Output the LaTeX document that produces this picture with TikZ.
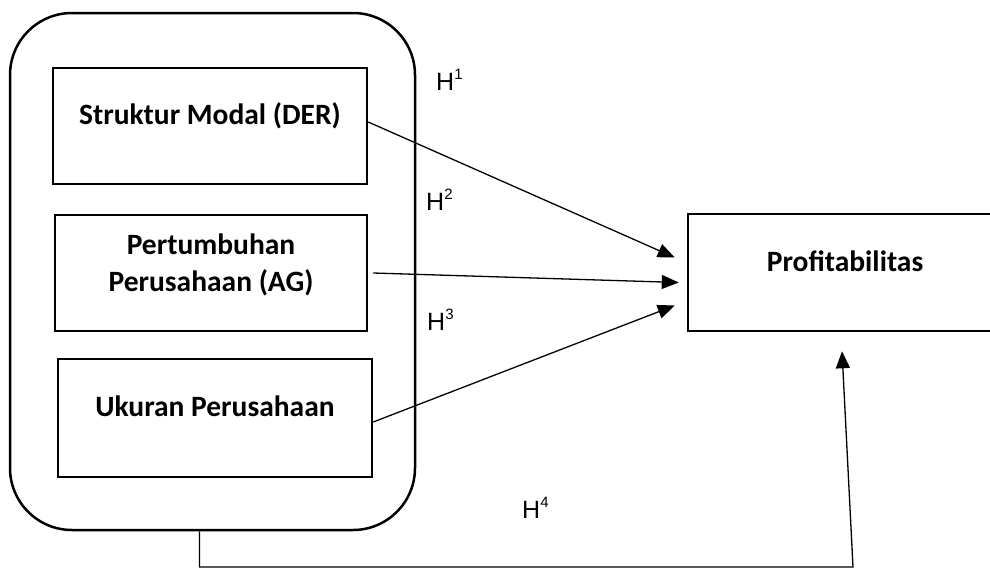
\documentclass[tikz,border=0pt]{standalone}
\usepackage{fontspec}
\setmainfont{Carlito}
\newfontfamily\hfont{Liberation Sans}
\usetikzlibrary{arrows.meta}

\newcommand{\hsup}[1]{H\raisebox{11pt}{\fontsize{15}{17}\selectfont #1}}

\tikzset{
  varbox/.style={draw, line width=2.5pt, inner sep=0pt},
  boxtext/.style={font=\bfseries\fontsize{29.5}{37}\selectfont, align=center, inner sep=0pt},
  hyp/.style={font=\hfont\fontsize{25}{28}\selectfont, inner sep=0pt, anchor=base west},
  link/.style={line width=1.3pt, -{Triangle[length=17pt,width=14pt]}}
}

\begin{document}
\begin{tikzpicture}[x=1pt, y=-1pt]
      \clip (0,0) rectangle (990,568);
      % outer group and boxes
      \node[varbox, rounded corners=62pt, minimum width=405pt, minimum height=517pt] (group) at (212.5,271.5) {};
      \node[varbox, minimum width=314pt, minimum height=116pt] (der) at (210,126) {};
      \node[varbox, minimum width=312pt, minimum height=116pt] (ag) at (211,273) {};
      \node[varbox, minimum width=314pt, minimum height=118pt] (size) at (215,418) {};
      \node[varbox, minimum width=412pt, minimum height=117pt] (profit) at (894,272.5) {};
      % texts
      \node[boxtext, anchor=base] (dertext) at (210,124) {Struktur Modal (DER)};
      \node[boxtext] (agtext) at (211,265) {Pertumbuhan\\Perusahaan (AG)};
      \node[boxtext, anchor=base] (sizetext) at (215,416) {Ukuran Perusahaan};
      \node[boxtext, anchor=base] (profittext) at (845,271) {Profitabilitas};
      % hypotheses
      \node[hyp] (h1) at (436,90) {\hsup{1}};
      \node[hyp] (h2) at (426,210) {\hsup{2}};
      \node[hyp] (h3) at (427,330) {\hsup{3}};
      \node[hyp] (h4) at (522,518) {\hsup{4}};
      \coordinate (corner) at (853,567);
      \begin{scope}[link]
        \draw ([yshift=4pt]der.east) to ([xshift=-12pt,yshift=15pt]profit.west);
        \draw ([xshift=5pt]ag.east) to ([xshift=-8pt,yshift=-10pt]profit.west);
        \draw ([yshift=-4pt]size.east) to ([xshift=-12pt,yshift=-33pt]profit.west);
        \draw ([xshift=-13pt]group.south) |- (corner) -- ([xshift=-52pt,yshift=-19pt]profit.south);
      \end{scope}
    \end{tikzpicture}
\end{document}
